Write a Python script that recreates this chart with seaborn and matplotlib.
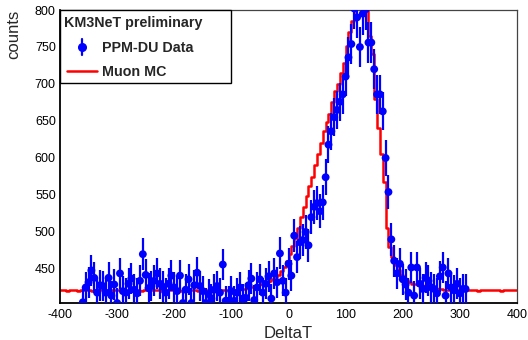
import numpy as np
import pandas as pd
import matplotlib
matplotlib.use("Agg")
import matplotlib.pyplot as plt
from matplotlib.lines import Line2D
from matplotlib.patches import Rectangle
from matplotlib.ticker import MultipleLocator
import seaborn as sns

# ---------------- data ----------------
# Muon MC histogram: 5-unit bins from -400 to 400
mc_edges_start, mc_edges_stop, mc_width = -400, 400, 5
mc_counts = [
    421, 421, 420, 421, 422, 421, 420, 421, 421, 422,
    421, 420, 421, 421, 422, 421, 421, 420, 421, 421,
    422, 421, 421, 420, 421, 421, 422, 421, 420, 421,
    421, 421, 422, 421, 421, 420, 421, 421, 421, 422,
    421, 421, 420, 421, 421, 422, 421, 421, 420, 421,
    421, 422, 421, 421, 420, 421, 421, 422, 421, 421,
    421, 422, 422, 423, 423, 424, 425, 426, 427, 428,
    430, 431, 432, 434, 436, 439, 442, 447, 453, 461,
    470, 481, 492, 506, 520, 534, 548, 562, 574, 590,
    605, 620, 636, 648, 659, 675, 690, 700, 715, 728,
    752, 770, 785, 805, 815, 818, 812, 800, 765, 740,
    680, 640, 605, 568, 505, 480, 466, 455, 448, 442,
    438, 435, 432, 430, 430, 429, 428, 427, 426, 425,
    424, 424, 423, 423, 422, 422, 422, 421, 422, 421,
    422, 421, 421, 422, 421, 421, 420, 421, 421, 422,
    421, 421, 422, 421, 420, 421, 421, 422, 421, 421,
]

# PPM-DU data: points every 5 units from -360 to 310
data_start, data_stop, data_step = -360, 310, 5
data_counts = [
    405, 425, 432, 448, 438, 418, 428, 427, 418, 438,
    414, 429, 404, 444, 420, 418, 430, 437, 422, 417,
    434, 470, 442, 424, 427, 434, 444, 430, 426, 418,
    430, 441, 425, 420, 441, 404, 422, 436, 404, 428,
    445, 427, 420, 404, 416, 410, 422, 427, 418, 456,
    407, 407, 420, 407, 418, 425, 410, 411, 428, 437,
    408, 425, 436, 418, 430, 440, 410, 444, 432, 471,
    434, 418, 457, 441, 495, 466, 486, 489, 500, 482,
    520, 534, 539, 528, 540, 574, 618, 636, 655, 665,
    676, 686, 710, 736, 754, 802, 790, 750, 795, 801,
    756, 756, 720, 686, 686, 663, 600, 554, 490, 461,
    444, 457, 436, 429, 418, 452, 414, 452, 430, 423,
    438, 434, 425, 423, 417, 440, 452, 414, 444, 425,
    421, 430, 417, 423, 423,
]

x_ticks = [-400, -300, -200, -100, 0, 100, 200, 300, 400]
y_ticks = [450, 500, 550, 600, 650, 700, 750, 800]

legend_header = "KM3NeT preliminary"
label_data = "PPM-DU Data"
label_mc = "Muon MC"

# ---------------- build tables ----------------
mc_edges = np.arange(mc_edges_start, mc_edges_stop + mc_width, mc_width)
mc_df = pd.DataFrame({"x": mc_edges[:-1] + mc_width / 2, "w": mc_counts})
data_x = np.arange(data_start, data_stop + data_step, data_step)
data_df = pd.DataFrame({"x": data_x, "y": data_counts})
data_df["err"] = np.sqrt(data_df["y"])

# ---------------- plot ----------------
sns.set_theme(style="white")
plt.rcParams["font.family"] = ["Liberation Sans", "DejaVu Sans"]
plt.rcParams["axes.unicode_minus"] = False

W, H = 528, 340
fig = plt.figure(figsize=(W / 100, H / 100), dpi=100)
ax = fig.add_axes([60 / W, 1 - 303 / H, (517 - 60) / W, (303 - 10) / H])


def fp(x, y):
    return (x / W, 1 - y / H)


sns.histplot(data=mc_df, x="x", weights="w", binwidth=mc_width,
             binrange=(mc_edges_start, mc_edges_stop), element="step",
             fill=False, color="#ff0000", linewidth=1.8, ax=ax, zorder=2)

ax.errorbar(data_df["x"], data_df["y"], yerr=data_df["err"], fmt="none",
            ecolor="#0000ff", elinewidth=1.6, capsize=0, zorder=3)
sns.scatterplot(data=data_df, x="x", y="y", color="#0000ff", s=32,
                edgecolor="none", ax=ax, zorder=4)

ax.set_xlim(-400, 400)
ax.set_ylim(404, 800)
ax.set_xticks(x_ticks)
ax.set_yticks(y_ticks)
ax.xaxis.set_minor_locator(MultipleLocator(20))
ax.yaxis.set_minor_locator(MultipleLocator(10))
ax.tick_params(axis="both", which="both", direction="in", top=False, right=False,
               colors="black", labelsize=9, pad=3)
ax.tick_params(axis="x", which="major", length=9, width=1, pad=4)
ax.tick_params(axis="x", which="minor", length=4.5, width=1)
ax.tick_params(axis="y", which="major", length=12, width=1)
ax.tick_params(axis="y", which="minor", length=6, width=1)

for side in ["left", "bottom"]:
    ax.spines[side].set_color("black")
    ax.spines[side].set_linewidth(1.3)
for side in ["top", "right"]:
    ax.spines[side].set_color("#444444")
    ax.spines[side].set_linewidth(0.9)

ax.set_xlabel("")
ax.set_ylabel("")
fig.text(*fp(288, 333), "DeltaT", ha="center", va="center", fontsize=12)
fig.text(*fp(14, 10), "counts", ha="center", va="top", rotation=90, fontsize=12)

# ---- ROOT-style legend box ----
x0, y0 = fp(60, 83)
x1, y1 = fp(231, 10)
fig.add_artist(Rectangle((x0, y0), x1 - x0, y1 - y0, transform=fig.transFigure,
                         facecolor="white", edgecolor="black", linewidth=1.0, zorder=5))
fig.text(*fp(64, 27), legend_header, ha="left", va="baseline", fontsize=10.3,
         fontweight="bold", zorder=6)
# data entry
mx, my = fp(82, 47)
ex0 = fp(82, 39)
ex1 = fp(82, 55)
fig.add_artist(Line2D([ex0[0], ex1[0]], [ex0[1], ex1[1]], color="#0000ff", linewidth=1.6,
                      transform=fig.transFigure, zorder=6))
fig.add_artist(Line2D([mx], [my], color="#0000ff", marker="o", markersize=5.5,
                      linestyle="none", transform=fig.transFigure, zorder=7))
fig.text(*fp(102, 52), label_data, ha="left", va="baseline", fontsize=10.3,
         fontweight="bold", zorder=6)
# MC entry
l0 = fp(67, 71)
l1 = fp(97, 71)
fig.add_artist(Line2D([l0[0], l1[0]], [l0[1], l1[1]], color="#ff0000", linewidth=1.8,
                      transform=fig.transFigure, zorder=6))
fig.text(*fp(102, 76), label_mc, ha="left", va="baseline", fontsize=10.3,
         fontweight="bold", zorder=6)

fig.savefig("out.png", dpi=100)
